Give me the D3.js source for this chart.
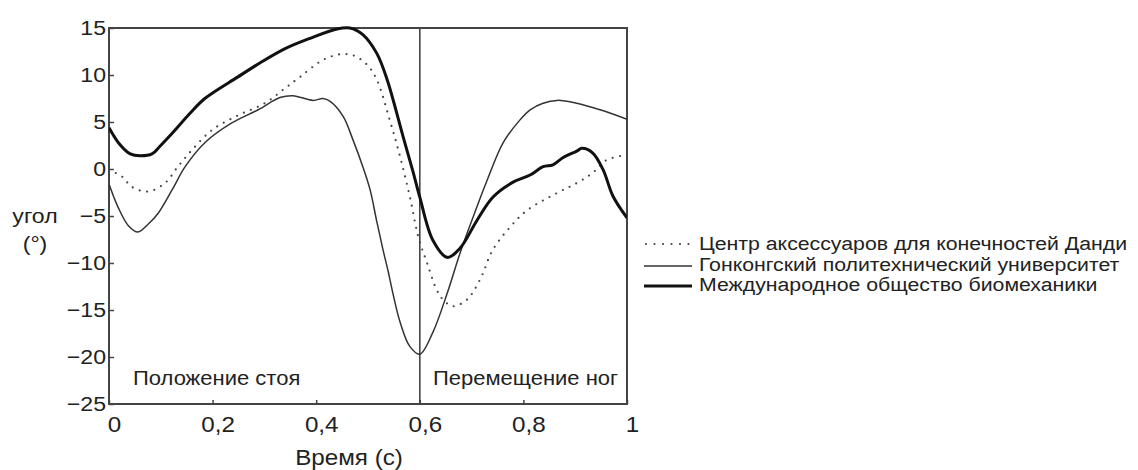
<!DOCTYPE html>
<html><head><meta charset="utf-8">
<script src="https://cdn.jsdelivr.net/npm/d3@7"></script>
<style>
html,body{margin:0;padding:0;background:#fff;}
svg{display:block;font-family:"Liberation Sans",Arial,sans-serif;}
</style></head>
<body><svg id="c" width="1138" height="470"></svg>
<script>
// ---- data ----
const seriesNames = ["Центр аксессуаров для конечностей Данди","Гонконгский политехнический университет","Международное общество биомеханики"];
const dundeeT = [0,0.025,0.044,0.075,0.108,0.133,0.160,0.199,0.249,0.301,0.340,0.369,0.413,0.446,0.471,0.498,0.517,0.542,0.562,0.581,0.597,0.614,0.633,0.645,0.664,0.691,0.716,0.741,0.774,0.807,0.865,0.903,0.934,0.961,1.0];
const dundeeV = [-0.1,-0.8,-1.9,-2.4,-1.5,0.25,2.0,4.15,5.7,7.0,8.6,9.8,11.6,12.2,12.1,11.1,9.5,5.2,1.3,-3.0,-7.2,-10.0,-12.9,-13.9,-14.6,-13.9,-11.8,-8.6,-6.2,-4.4,-2.55,-1.5,-0.4,0.96,1.5];
const hkT = [0,0.017,0.037,0.056,0.075,0.095,0.122,0.147,0.185,0.237,0.288,0.330,0.355,0.394,0.413,0.427,0.452,0.471,0.490,0.504,0.517,0.529,0.539,0.548,0.562,0.581,0.600,0.625,0.653,0.678,0.703,0.730,0.761,0.793,0.813,0.838,0.865,0.903,0.948,1.0];
const hkV = [-1.6,-4.0,-6.0,-6.7,-5.9,-4.7,-2.2,0.25,2.8,4.9,6.3,7.6,7.8,7.3,7.5,7.2,5.6,3.1,0.25,-2.2,-5.6,-8.6,-10.9,-13.2,-16.3,-18.9,-19.7,-17.4,-13.2,-8.9,-5.1,-1.2,2.8,5.2,6.3,7.0,7.3,7.0,6.3,5.3];
const isbT = [0,0.021,0.041,0.060,0.083,0.098,0.122,0.156,0.185,0.249,0.292,0.340,0.388,0.440,0.465,0.490,0.517,0.537,0.568,0.587,0.600,0.625,0.653,0.678,0.710,0.741,0.780,0.813,0.838,0.857,0.876,0.903,0.913,0.934,0.954,0.973,1.0];
const isbV = [4.4,2.6,1.6,1.4,1.6,2.4,3.8,5.9,7.5,9.8,11.3,12.8,13.9,14.9,15.0,14.3,12.3,9.5,3.4,-0.3,-3.0,-7.55,-9.4,-8.4,-5.5,-3.0,-1.4,-0.64,0.25,0.45,1.2,1.9,2.2,1.7,-0.1,-2.9,-5.2];
const xTicks = [0,0.2,0.4,0.6,0.8,1];
const xTickLabels = ["0","0,2","0,4","0,6","0,8","1"];
const yTicks = [-25,-20,-15,-10,-5,0,5,10,15];
const phaseSplit = 0.6;
const phaseLabels = ["Положение стоя","Перемещение ног"];
const yTitle = ["угол","(°)"];
const xTitle = "Время (с)";

// ---- layout ----
const svg = d3.select("#c");
const L=109, R=627, T=28, B=404;
const SX = 1.1; // horizontal text stretch seen in the reference
const x = d3.scaleLinear().domain([0,1]).range([L,R]);
const y = d3.scaleLinear().domain([-25,15]).range([B,T]);
const ink="#222", frame="#444";

function label(px, py, str, size, anchor, sx){
  svg.append("text").attr("transform",`translate(${px},${py}) scale(${sx||SX},1)`)
    .attr("text-anchor",anchor||"start").attr("font-size",size).attr("fill",ink).text(str);
}

// frame
svg.append("rect").attr("x",L).attr("y",T).attr("width",R-L).attr("height",B-T)
  .attr("fill","none").attr("stroke",frame).attr("stroke-width",2);
// phase line
svg.append("line").attr("x1",x(phaseSplit)).attr("x2",x(phaseSplit)).attr("y1",T).attr("y2",B)
  .attr("stroke",frame).attr("stroke-width",1.6);

// axes
const gx = svg.append("g").attr("transform",`translate(0,${B})`)
  .call(d3.axisBottom(x).tickValues(xTicks).tickFormat((d,i)=>xTickLabels[i]).tickSizeInner(-4).tickSizeOuter(0).tickPadding(12));
gx.select(".domain").remove();
gx.selectAll(".tick line").attr("stroke",frame).attr("stroke-width",1.5);
gx.selectAll(".tick text").attr("font-size",22).attr("fill",ink).attr("font-family","Liberation Sans, Arial, sans-serif")
  .attr("transform",`translate(5,0) scale(${SX},1)`);

const gy = svg.append("g").attr("transform",`translate(${L},0)`)
  .call(d3.axisLeft(y).tickValues(yTicks).tickFormat(d3.format("d")).tickSizeInner(-5).tickSizeOuter(0).tickPadding(3));
gy.select(".domain").remove();
gy.selectAll(".tick line").attr("stroke",frame).attr("stroke-width",1.5);
gy.selectAll(".tick text").attr("font-size",21).attr("fill",ink).attr("font-family","Liberation Sans, Arial, sans-serif")
  .attr("x",0).attr("transform",`translate(-3,0) scale(${SX},1)`);

// titles
label(35,223,yTitle[0],21,"middle");
label(35,251,yTitle[1],21,"middle");
label(349,465,xTitle,22,"middle");
label(133,385,phaseLabels[0],20,"start");
label(433,385,phaseLabels[1],20,"start");

// lines
const line = d3.line().x(d=>x(d[0])).y(d=>y(d[1])).curve(d3.curveCatmullRom.alpha(0.5));
const styles = [
  {w:2.2, c:"#444", dash:"0,7.5", cap:"round"},
  {w:1.5, c:"#333", dash:null, cap:"butt"},
  {w:3, c:"#111", dash:null, cap:"butt"}
];
const data = [d3.zip(dundeeT,dundeeV), d3.zip(hkT,hkV), d3.zip(isbT,isbV)];
svg.append("clipPath").attr("id","pc").append("rect").attr("x",L).attr("y",T-2).attr("width",R-L).attr("height",B-T+2);
data.forEach((d,i)=>{
  const p = svg.append("path").attr("d",line(d)).attr("fill","none").attr("stroke",styles[i].c)
    .attr("stroke-width",styles[i].w).attr("stroke-linecap",styles[i].cap).attr("stroke-linejoin","round")
    .attr("clip-path","url(#pc)");
  if(styles[i].dash) p.attr("stroke-dasharray",styles[i].dash);
});

// legend
const legY = [244,266,286];
const legBase = [250,271,291];
seriesNames.forEach((n,i)=>{
  const ln = svg.append("line").attr("x1",644).attr("x2",692).attr("y1",legY[i]).attr("y2",legY[i])
    .attr("stroke",styles[i].c).attr("stroke-width",styles[i].w).attr("stroke-linecap",styles[i].cap);
  if(styles[i].dash) ln.attr("stroke-dasharray","0,8.5").attr("x1",646);
  label(699,legBase[i],n,19,"start",1.12);
});
</script>
</body></html>
